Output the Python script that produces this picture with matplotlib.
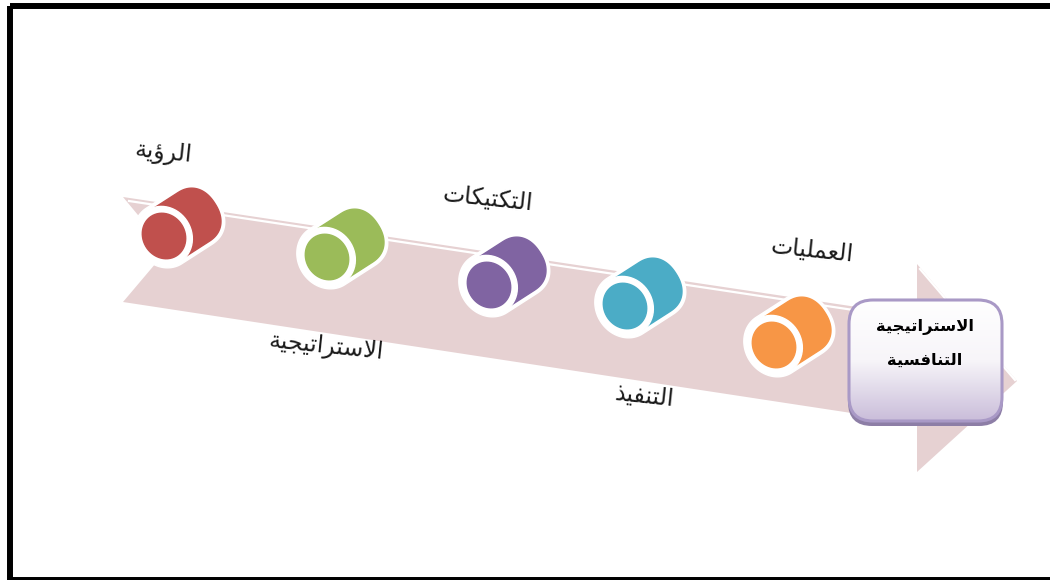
import matplotlib
matplotlib.use("Agg")
import matplotlib.pyplot as plt
import matplotlib.patches as mpatches
from matplotlib.colors import LinearSegmentedColormap
import numpy as np

# Arabic is stored as presentation forms in reading order; draw_label reverses it
# because matplotlib lays glyphs out left to right without shaping.
VISION = "\uFE8D\uFEDF\uFEAE\uFE85\uFEF3\uFE94"  # الرؤية
STRATEGY = "\uFE8D\uFEFB\uFEB3\uFE98\uFEAE\uFE8D\uFE97\uFEF4\uFEA0\uFEF4\uFE94"  # الاستراتيجية
TACTICS = "\uFE8D\uFEDF\uFE98\uFEDC\uFE98\uFEF4\uFEDC\uFE8E\uFE95"  # التكتيكات
EXECUTION = "\uFE8D\uFEDF\uFE98\uFEE8\uFED4\uFEF4\uFEAC"  # التنفيذ
OPERATIONS = "\uFE8D\uFEDF\uFECC\uFEE4\uFEE0\uFEF4\uFE8E\uFE95"  # العمليات
COMPETITIVE = "\uFE8D\uFEDF\uFE98\uFEE8\uFE8E\uFED3\uFEB4\uFEF4\uFE94"  # التنافسية

step_labels = [VISION, STRATEGY, TACTICS, EXECUTION, OPERATIONS]
label_x = [163, 326, 488, 644, 812]
label_y = [153, 347, 199, 396, 250]
step_colors = ["#c0504d", "#9bbb59", "#8064a2", "#4bacc6", "#f79646"]
step_x = [164, 327, 489, 625, 774]
step_y = [236, 257, 285, 306, 345]
box_lines = [STRATEGY, COMPETITIVE]

# Cylinder axis and the direction across it, in pixels (y points down)
AXIS = np.array([0.84, -0.54])
ACROSS = np.array([0.54, 0.84])
LENGTH = 35


def half_ellipse(center, minor, major, start, stop, power=1.0):
    # power below 1 squares the curve off into a superellipse
    t = np.radians(np.linspace(start, stop, 60))
    c, s = np.cos(t), np.sin(t)
    c = np.sign(c) * np.abs(c) ** power
    s = np.sign(s) * np.abs(s) ** power
    return np.outer(minor * c, AXIS) + np.outer(major * s, ACROSS) + np.asarray(center)


def draw_cylinder(ax, x, y, color):
    front = np.array([x, y], dtype=float)
    back = front + AXIS * LENGTH
    # The far end is blunter than the near one
    for minor, major, shade, z in [(29, 33, "white", 3), (25.5, 29, color, 4)]:
        outline = np.vstack([half_ellipse(back, minor, major, -90, 90, power=0.88),
                             half_ellipse(front, minor, major, 90, 270)])
        ax.fill(*outline.T, color=shade, zorder=z)
    ax.fill(*half_ellipse(front, 27.5, 30.5, 0, 360).T, color="white", zorder=5)
    ax.fill(*half_ellipse(front, 21, 23.5, 0, 360).T, color=color, zorder=6)


def draw_label(ax, x, y, text, **kwargs):
    ax.text(x, y, text[::-1], ha="center", va="center", family="DejaVu Sans", **kwargs)


fig = plt.figure(figsize=(10.5, 5.8), dpi=100)
ax = fig.add_axes([0, 0, 1, 1])

# Long pale arrow running down to the right
arrow = [(123, 197), (917, 316), (917, 264), (1017, 381), (917, 472), (917, 423),
         (123, 302), (167, 250)]
ax.add_patch(mpatches.Polygon(arrow, closed=True, facecolor="#e6d1d2", edgecolor="none", zorder=1))
ax.plot([129, 880], [201, 314], color="white", lw=1.6, zorder=2)
ax.plot([920, 1015], [269, 380], color="white", lw=1.6, zorder=2)

for x, y, color in zip(step_x, step_y, step_colors):
    draw_cylinder(ax, x, y, color)

for x, y, text in zip(label_x, label_y, step_labels):
    draw_label(ax, x, y, text, fontsize=17, rotation=-6, rotation_mode="anchor",
               color="#1a1a1a", zorder=8)

# Rounded box with a soft vertical gradient and a darker lower edge
box_style = "round,pad=0,rounding_size=24"
ax.add_patch(mpatches.FancyBboxPatch((848, 304), 155, 122, boxstyle=box_style,
                                     facecolor="#8d7ea6", edgecolor="none", zorder=9))
box = mpatches.FancyBboxPatch((849, 300), 153, 121, boxstyle=box_style,
                              facecolor="none", edgecolor="#a999c6", lw=2.2, zorder=11)
ax.add_patch(box)
cmap = LinearSegmentedColormap.from_list("box", ["#ffffff", "#f7f5f9", "#c9bcd9"])
gradient = ax.imshow(np.linspace(0, 1, 256).reshape(-1, 1), extent=(848, 1003, 422, 299),
                     cmap=cmap, aspect="auto", zorder=10)
gradient.set_clip_path(box)

for y, text in zip([327, 360], box_lines):
    draw_label(ax, 925, y, text, fontsize=11.8, fontweight="bold", color="black", zorder=12)

# Heavy black frame, open past the right edge
ax.add_patch(mpatches.Rectangle((9.7, 6.3), 1100, 573.4, facecolor="none", edgecolor="black",
                                lw=4.3, zorder=13))

ax.set_xlim(0, 1050)
ax.set_ylim(580, 0)
ax.axis("off")
fig.savefig("out.png", dpi=100)
